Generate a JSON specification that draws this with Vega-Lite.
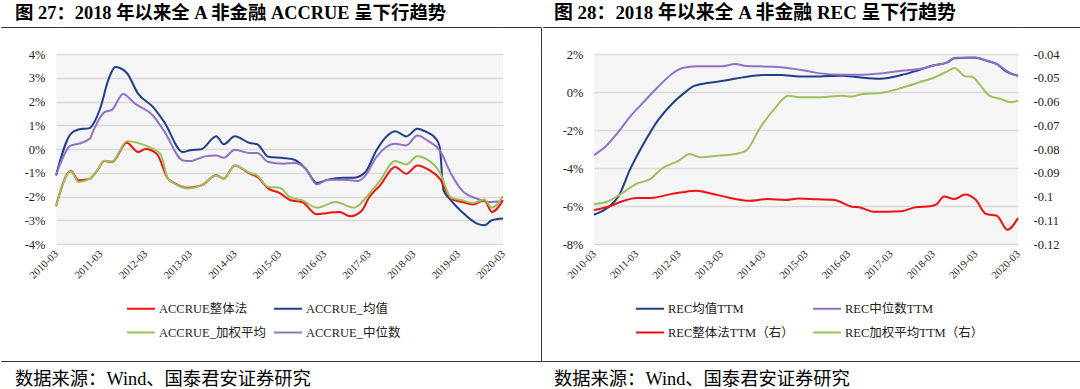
{
  "$schema": "https://vega.github.io/schema/vega-lite/v6.json",
  "padding": {"top": 3, "left": 0, "right": 0, "bottom": 0},
  "background": "white",
  "config": {
    "font": "Liberation Serif, Noto Sans CJK SC",
    "view": {"stroke": null},
    "axis": {"labelFont": "Liberation Serif, Noto Sans CJK SC", "labelColor": "#222222", "domain": false, "ticks": false, "gridColor": "#d9d9d9", "gridWidth": 1.5, "labelFontSize": 12.5},
    "legend": {"labelFont": "Liberation Serif, Noto Sans CJK SC", "labelColor": "#222222", "labelFontSize": 12.5},
    "title": {"font": "Liberation Serif, Noto Sans CJK SC", "color": "#000000"},
    "line": {"strokeWidth": 2, "interpolate": "monotone"}
  },
  "datasets": {
    "accrue": [
      {"date": "2010-03", "series": "ACCRUE_均值", "value": -1.11},
      {"date": "2010-07", "series": "ACCRUE_均值", "value": 0.65},
      {"date": "2010-09", "series": "ACCRUE_均值", "value": 0.82},
      {"date": "2010-12", "series": "ACCRUE_均值", "value": 0.88},
      {"date": "2011-01", "series": "ACCRUE_均值", "value": 1.07},
      {"date": "2011-03", "series": "ACCRUE_均值", "value": 1.77},
      {"date": "2011-05", "series": "ACCRUE_均值", "value": 2.89},
      {"date": "2011-07", "series": "ACCRUE_均值", "value": 3.45},
      {"date": "2011-08", "series": "ACCRUE_均值", "value": 3.42},
      {"date": "2011-10", "series": "ACCRUE_均值", "value": 3.2},
      {"date": "2012-01", "series": "ACCRUE_均值", "value": 2.33},
      {"date": "2012-05", "series": "ACCRUE_均值", "value": 1.77},
      {"date": "2012-08", "series": "ACCRUE_均值", "value": 1.14},
      {"date": "2013-01", "series": "ACCRUE_均值", "value": -0.13},
      {"date": "2013-03", "series": "ACCRUE_均值", "value": -0.05},
      {"date": "2013-06", "series": "ACCRUE_均值", "value": -0.01},
      {"date": "2013-10", "series": "ACCRUE_均值", "value": 0.54},
      {"date": "2013-12", "series": "ACCRUE_均值", "value": 0.2},
      {"date": "2014-03", "series": "ACCRUE_均值", "value": 0.54},
      {"date": "2014-07", "series": "ACCRUE_均值", "value": 0.25},
      {"date": "2014-09", "series": "ACCRUE_均值", "value": 0.2},
      {"date": "2014-12", "series": "ACCRUE_均值", "value": -0.33},
      {"date": "2015-04", "series": "ACCRUE_均值", "value": -0.38},
      {"date": "2015-07", "series": "ACCRUE_均值", "value": -0.45},
      {"date": "2015-10", "series": "ACCRUE_均值", "value": -0.83},
      {"date": "2016-01", "series": "ACCRUE_均值", "value": -1.43},
      {"date": "2016-04", "series": "ACCRUE_均值", "value": -1.29},
      {"date": "2016-08", "series": "ACCRUE_均值", "value": -1.21},
      {"date": "2016-11", "series": "ACCRUE_均值", "value": -1.21},
      {"date": "2017-02", "series": "ACCRUE_均值", "value": -0.97},
      {"date": "2017-05", "series": "ACCRUE_均值", "value": -0.06},
      {"date": "2017-08", "series": "ACCRUE_均值", "value": 0.57},
      {"date": "2017-10", "series": "ACCRUE_均值", "value": 0.75},
      {"date": "2018-01", "series": "ACCRUE_均值", "value": 0.53},
      {"date": "2018-04", "series": "ACCRUE_均值", "value": 0.85},
      {"date": "2018-06", "series": "ACCRUE_均值", "value": 0.75},
      {"date": "2018-09", "series": "ACCRUE_均值", "value": 0.43},
      {"date": "2018-10", "series": "ACCRUE_均值", "value": 0.08},
      {"date": "2018-11", "series": "ACCRUE_均值", "value": -1.74},
      {"date": "2019-01", "series": "ACCRUE_均值", "value": -2.16},
      {"date": "2019-04", "series": "ACCRUE_均值", "value": -2.65},
      {"date": "2019-08", "series": "ACCRUE_均值", "value": -3.14},
      {"date": "2019-10", "series": "ACCRUE_均值", "value": -3.21},
      {"date": "2019-12", "series": "ACCRUE_均值", "value": -3.0},
      {"date": "2020-03", "series": "ACCRUE_均值", "value": -2.93},

      {"date": "2010-03", "series": "ACCRUE_中位数", "value": -1.11},
      {"date": "2010-07", "series": "ACCRUE_中位数", "value": 0.15},
      {"date": "2010-09", "series": "ACCRUE_中位数", "value": 0.22},
      {"date": "2010-12", "series": "ACCRUE_中位数", "value": 0.43},
      {"date": "2011-01", "series": "ACCRUE_中位数", "value": 0.78},
      {"date": "2011-04", "series": "ACCRUE_中位数", "value": 1.55},
      {"date": "2011-06", "series": "ACCRUE_中位数", "value": 1.65},
      {"date": "2011-09", "series": "ACCRUE_中位数", "value": 2.32},
      {"date": "2011-12", "series": "ACCRUE_中位数", "value": 1.93},
      {"date": "2012-05", "series": "ACCRUE_中位数", "value": 1.41},
      {"date": "2012-08", "series": "ACCRUE_中位数", "value": 0.75},
      {"date": "2013-01", "series": "ACCRUE_中位数", "value": -0.48},
      {"date": "2013-03", "series": "ACCRUE_中位数", "value": -0.51},
      {"date": "2013-07", "series": "ACCRUE_中位数", "value": -0.31},
      {"date": "2013-10", "series": "ACCRUE_中位数", "value": -0.27},
      {"date": "2013-12", "series": "ACCRUE_中位数", "value": -0.37},
      {"date": "2014-03", "series": "ACCRUE_中位数", "value": -0.03},
      {"date": "2014-07", "series": "ACCRUE_中位数", "value": -0.17},
      {"date": "2014-09", "series": "ACCRUE_中位数", "value": -0.17},
      {"date": "2014-12", "series": "ACCRUE_中位数", "value": -0.55},
      {"date": "2015-04", "series": "ACCRUE_中位数", "value": -0.62},
      {"date": "2015-07", "series": "ACCRUE_中位数", "value": -0.59},
      {"date": "2015-10", "series": "ACCRUE_中位数", "value": -0.83},
      {"date": "2016-01", "series": "ACCRUE_中位数", "value": -1.49},
      {"date": "2016-04", "series": "ACCRUE_中位数", "value": -1.29},
      {"date": "2016-08", "series": "ACCRUE_中位数", "value": -1.29},
      {"date": "2016-12", "series": "ACCRUE_中位数", "value": -1.35},
      {"date": "2017-02", "series": "ACCRUE_中位数", "value": -1.11},
      {"date": "2017-05", "series": "ACCRUE_中位数", "value": -0.34},
      {"date": "2017-10", "series": "ACCRUE_中位数", "value": 0.22},
      {"date": "2018-01", "series": "ACCRUE_中位数", "value": 0.15},
      {"date": "2018-04", "series": "ACCRUE_中位数", "value": 0.57},
      {"date": "2018-07", "series": "ACCRUE_中位数", "value": 0.33},
      {"date": "2018-10", "series": "ACCRUE_中位数", "value": -0.06},
      {"date": "2019-01", "series": "ACCRUE_中位数", "value": -1.04},
      {"date": "2019-04", "series": "ACCRUE_中位数", "value": -1.74},
      {"date": "2019-08", "series": "ACCRUE_中位数", "value": -2.09},
      {"date": "2019-11", "series": "ACCRUE_中位数", "value": -2.23},
      {"date": "2020-03", "series": "ACCRUE_中位数", "value": -2.19},

      {"date": "2010-03", "series": "ACCRUE整体法", "value": -2.41},
      {"date": "2010-07", "series": "ACCRUE整体法", "value": -0.93},
      {"date": "2010-09", "series": "ACCRUE整体法", "value": -1.32},
      {"date": "2010-12", "series": "ACCRUE整体法", "value": -1.25},
      {"date": "2011-02", "series": "ACCRUE整体法", "value": -0.9},
      {"date": "2011-04", "series": "ACCRUE整体法", "value": -0.51},
      {"date": "2011-06", "series": "ACCRUE整体法", "value": -0.55},
      {"date": "2011-10", "series": "ACCRUE整体法", "value": 0.26},
      {"date": "2012-01", "series": "ACCRUE整体法", "value": -0.13},
      {"date": "2012-03", "series": "ACCRUE整体法", "value": 0.0},
      {"date": "2012-06", "series": "ACCRUE整体法", "value": -0.2},
      {"date": "2012-09", "series": "ACCRUE整体法", "value": -1.25},
      {"date": "2012-11", "series": "ACCRUE整体法", "value": -1.46},
      {"date": "2013-02", "series": "ACCRUE整体法", "value": -1.63},
      {"date": "2013-06", "series": "ACCRUE整体法", "value": -1.53},
      {"date": "2013-10", "series": "ACCRUE整体法", "value": -1.11},
      {"date": "2013-12", "series": "ACCRUE整体法", "value": -1.25},
      {"date": "2014-03", "series": "ACCRUE整体法", "value": -0.69},
      {"date": "2014-07", "series": "ACCRUE整体法", "value": -1.04},
      {"date": "2014-09", "series": "ACCRUE整体法", "value": -1.18},
      {"date": "2014-12", "series": "ACCRUE整体法", "value": -1.67},
      {"date": "2015-03", "series": "ACCRUE整体法", "value": -1.85},
      {"date": "2015-06", "series": "ACCRUE整体法", "value": -2.16},
      {"date": "2015-09", "series": "ACCRUE整体法", "value": -2.23},
      {"date": "2016-01", "series": "ACCRUE整体法", "value": -2.75},
      {"date": "2016-04", "series": "ACCRUE整体法", "value": -2.69},
      {"date": "2016-07", "series": "ACCRUE整体法", "value": -2.65},
      {"date": "2016-10", "series": "ACCRUE整体法", "value": -2.83},
      {"date": "2017-01", "series": "ACCRUE整体法", "value": -2.6},
      {"date": "2017-03", "series": "ACCRUE整体法", "value": -2.05},
      {"date": "2017-06", "series": "ACCRUE整体法", "value": -1.53},
      {"date": "2017-10", "series": "ACCRUE整体法", "value": -0.76},
      {"date": "2018-01", "series": "ACCRUE整体法", "value": -1.04},
      {"date": "2018-04", "series": "ACCRUE整体法", "value": -0.69},
      {"date": "2018-07", "series": "ACCRUE整体法", "value": -0.87},
      {"date": "2018-10", "series": "ACCRUE整体法", "value": -1.25},
      {"date": "2019-01", "series": "ACCRUE整体法", "value": -2.09},
      {"date": "2019-04", "series": "ACCRUE整体法", "value": -2.23},
      {"date": "2019-07", "series": "ACCRUE整体法", "value": -2.34},
      {"date": "2019-10", "series": "ACCRUE整体法", "value": -2.16},
      {"date": "2019-12", "series": "ACCRUE整体法", "value": -2.65},
      {"date": "2020-03", "series": "ACCRUE整体法", "value": -2.16},

      {"date": "2010-03", "series": "ACCRUE_加权平均", "value": -2.41},
      {"date": "2010-07", "series": "ACCRUE_加权平均", "value": -0.95},
      {"date": "2010-09", "series": "ACCRUE_加权平均", "value": -1.39},
      {"date": "2010-12", "series": "ACCRUE_加权平均", "value": -1.25},
      {"date": "2011-02", "series": "ACCRUE_加权平均", "value": -0.9},
      {"date": "2011-04", "series": "ACCRUE_加权平均", "value": -0.49},
      {"date": "2011-06", "series": "ACCRUE_加权平均", "value": -0.53},
      {"date": "2011-10", "series": "ACCRUE_加权平均", "value": 0.33},
      {"date": "2012-04", "series": "ACCRUE_加权平均", "value": 0.08},
      {"date": "2012-07", "series": "ACCRUE_加权平均", "value": -0.2},
      {"date": "2012-09", "series": "ACCRUE_加权平均", "value": -1.25},
      {"date": "2012-11", "series": "ACCRUE_加权平均", "value": -1.48},
      {"date": "2013-02", "series": "ACCRUE_加权平均", "value": -1.66},
      {"date": "2013-06", "series": "ACCRUE_加权平均", "value": -1.53},
      {"date": "2013-10", "series": "ACCRUE_加权平均", "value": -1.11},
      {"date": "2013-12", "series": "ACCRUE_加权平均", "value": -1.25},
      {"date": "2014-03", "series": "ACCRUE_加权平均", "value": -0.69},
      {"date": "2014-07", "series": "ACCRUE_加权平均", "value": -1.0},
      {"date": "2014-09", "series": "ACCRUE_加权平均", "value": -1.12},
      {"date": "2014-12", "series": "ACCRUE_加权平均", "value": -1.6},
      {"date": "2015-03", "series": "ACCRUE_加权平均", "value": -1.63},
      {"date": "2015-06", "series": "ACCRUE_加权平均", "value": -2.05},
      {"date": "2015-09", "series": "ACCRUE_加权平均", "value": -2.16},
      {"date": "2016-01", "series": "ACCRUE_加权平均", "value": -2.47},
      {"date": "2016-06", "series": "ACCRUE_加权平均", "value": -2.23},
      {"date": "2016-11", "series": "ACCRUE_加权平均", "value": -2.47},
      {"date": "2017-03", "series": "ACCRUE_加权平均", "value": -1.9},
      {"date": "2017-06", "series": "ACCRUE_加权平均", "value": -1.32},
      {"date": "2017-10", "series": "ACCRUE_加权平均", "value": -0.51},
      {"date": "2018-01", "series": "ACCRUE_加权平均", "value": -0.65},
      {"date": "2018-04", "series": "ACCRUE_加权平均", "value": -0.3},
      {"date": "2018-07", "series": "ACCRUE_加权平均", "value": -0.48},
      {"date": "2018-10", "series": "ACCRUE_加权平均", "value": -0.97},
      {"date": "2019-01", "series": "ACCRUE_加权平均", "value": -2.05},
      {"date": "2019-04", "series": "ACCRUE_加权平均", "value": -2.16},
      {"date": "2019-07", "series": "ACCRUE_加权平均", "value": -2.27},
      {"date": "2019-10", "series": "ACCRUE_加权平均", "value": -2.13},
      {"date": "2019-12", "series": "ACCRUE_加权平均", "value": -2.47},
      {"date": "2020-03", "series": "ACCRUE_加权平均", "value": -1.99}
    ],
    "rec": [
      {"date": "2010-03", "series": "REC均值TTM", "value": -6.46},
      {"date": "2010-07", "series": "REC均值TTM", "value": -6.07},
      {"date": "2010-10", "series": "REC均值TTM", "value": -5.46},
      {"date": "2011-01", "series": "REC均值TTM", "value": -4.14},
      {"date": "2011-05", "series": "REC均值TTM", "value": -2.74},
      {"date": "2011-09", "series": "REC均值TTM", "value": -1.51},
      {"date": "2012-01", "series": "REC均值TTM", "value": -0.63},
      {"date": "2012-05", "series": "REC均值TTM", "value": 0.02},
      {"date": "2012-07", "series": "REC均值TTM", "value": 0.3},
      {"date": "2012-11", "series": "REC均值TTM", "value": 0.47},
      {"date": "2013-04", "series": "REC均值TTM", "value": 0.6},
      {"date": "2013-09", "series": "REC均值TTM", "value": 0.77},
      {"date": "2014-03", "series": "REC均值TTM", "value": 0.89},
      {"date": "2014-08", "series": "REC均值TTM", "value": 0.89},
      {"date": "2015-01", "series": "REC均值TTM", "value": 0.81},
      {"date": "2015-07", "series": "REC均值TTM", "value": 0.82},
      {"date": "2016-01", "series": "REC均值TTM", "value": 0.86},
      {"date": "2016-06", "series": "REC均值TTM", "value": 0.77},
      {"date": "2016-12", "series": "REC均值TTM", "value": 0.7},
      {"date": "2017-06", "series": "REC均值TTM", "value": 0.89},
      {"date": "2017-11", "series": "REC均值TTM", "value": 1.16},
      {"date": "2018-03", "series": "REC均值TTM", "value": 1.39},
      {"date": "2018-07", "series": "REC均值TTM", "value": 1.56},
      {"date": "2018-09", "series": "REC均值TTM", "value": 1.77},
      {"date": "2019-01", "series": "REC均值TTM", "value": 1.8},
      {"date": "2019-03", "series": "REC均值TTM", "value": 1.8},
      {"date": "2019-06", "series": "REC均值TTM", "value": 1.65},
      {"date": "2019-09", "series": "REC均值TTM", "value": 1.47},
      {"date": "2019-12", "series": "REC均值TTM", "value": 1.04},
      {"date": "2020-03", "series": "REC均值TTM", "value": 0.86},

      {"date": "2010-03", "series": "REC中位数TTM", "value": -3.32},
      {"date": "2010-06", "series": "REC中位数TTM", "value": -2.91},
      {"date": "2010-10", "series": "REC中位数TTM", "value": -2.07},
      {"date": "2011-01", "series": "REC中位数TTM", "value": -1.33},
      {"date": "2011-05", "series": "REC中位数TTM", "value": -0.54},
      {"date": "2011-09", "series": "REC中位数TTM", "value": 0.25},
      {"date": "2012-01", "series": "REC中位数TTM", "value": 0.95},
      {"date": "2012-04", "series": "REC中位数TTM", "value": 1.26},
      {"date": "2012-08", "series": "REC中位数TTM", "value": 1.35},
      {"date": "2013-03", "series": "REC中位数TTM", "value": 1.35},
      {"date": "2013-07", "series": "REC中位数TTM", "value": 1.47},
      {"date": "2013-10", "series": "REC中位数TTM", "value": 1.37},
      {"date": "2014-06", "series": "REC中位数TTM", "value": 1.33},
      {"date": "2014-11", "series": "REC中位数TTM", "value": 1.23},
      {"date": "2015-03", "series": "REC中位数TTM", "value": 1.12},
      {"date": "2015-07", "series": "REC中位数TTM", "value": 0.98},
      {"date": "2016-01", "series": "REC中位数TTM", "value": 0.91},
      {"date": "2016-06", "series": "REC中位数TTM", "value": 0.91},
      {"date": "2016-12", "series": "REC中位数TTM", "value": 0.98},
      {"date": "2017-06", "series": "REC中位数TTM", "value": 1.12},
      {"date": "2017-11", "series": "REC中位数TTM", "value": 1.21},
      {"date": "2018-03", "series": "REC中位数TTM", "value": 1.39},
      {"date": "2018-07", "series": "REC中位数TTM", "value": 1.56},
      {"date": "2018-09", "series": "REC中位数TTM", "value": 1.8},
      {"date": "2019-03", "series": "REC中位数TTM", "value": 1.81},
      {"date": "2019-06", "series": "REC中位数TTM", "value": 1.67},
      {"date": "2019-09", "series": "REC中位数TTM", "value": 1.47},
      {"date": "2020-01", "series": "REC中位数TTM", "value": 0.97},
      {"date": "2020-03", "series": "REC中位数TTM", "value": 0.86},

      {"date": "2010-03", "series": "REC整体法TTM（右）", "value": -0.1057},
      {"date": "2010-07", "series": "REC整体法TTM（右）", "value": -0.1043},
      {"date": "2010-11", "series": "REC整体法TTM（右）", "value": -0.102},
      {"date": "2011-03", "series": "REC整体法TTM（右）", "value": -0.1006},
      {"date": "2011-07", "series": "REC整体法TTM（右）", "value": -0.1006},
      {"date": "2012-01", "series": "REC整体法TTM（右）", "value": -0.0989},
      {"date": "2012-04", "series": "REC整体法TTM（右）", "value": -0.0982},
      {"date": "2012-08", "series": "REC整体法TTM（右）", "value": -0.0976},
      {"date": "2012-12", "series": "REC整体法TTM（右）", "value": -0.0987},
      {"date": "2013-05", "series": "REC整体法TTM（右）", "value": -0.1004},
      {"date": "2013-11", "series": "REC整体法TTM（右）", "value": -0.1018},
      {"date": "2014-04", "series": "REC整体法TTM（右）", "value": -0.1011},
      {"date": "2014-09", "series": "REC整体法TTM（右）", "value": -0.1015},
      {"date": "2015-01", "series": "REC整体法TTM（右）", "value": -0.1008},
      {"date": "2015-06", "series": "REC整体法TTM（右）", "value": -0.1012},
      {"date": "2015-11", "series": "REC整体法TTM（右）", "value": -0.1015},
      {"date": "2016-04", "series": "REC整体法TTM（右）", "value": -0.1043},
      {"date": "2016-06", "series": "REC整体法TTM（右）", "value": -0.1045},
      {"date": "2016-10", "series": "REC整体法TTM（右）", "value": -0.1064},
      {"date": "2017-02", "series": "REC整体法TTM（右）", "value": -0.1064},
      {"date": "2017-06", "series": "REC整体法TTM（右）", "value": -0.1062},
      {"date": "2017-10", "series": "REC整体法TTM（右）", "value": -0.1045},
      {"date": "2018-02", "series": "REC整体法TTM（右）", "value": -0.1041},
      {"date": "2018-04", "series": "REC整体法TTM（右）", "value": -0.1032},
      {"date": "2018-06", "series": "REC整体法TTM（右）", "value": -0.1},
      {"date": "2018-09", "series": "REC整体法TTM（右）", "value": -0.1011},
      {"date": "2018-12", "series": "REC整体法TTM（右）", "value": -0.0992},
      {"date": "2019-03", "series": "REC整体法TTM（右）", "value": -0.1013},
      {"date": "2019-06", "series": "REC整体法TTM（右）", "value": -0.1074},
      {"date": "2019-09", "series": "REC整体法TTM（右）", "value": -0.1081},
      {"date": "2019-12", "series": "REC整体法TTM（右）", "value": -0.114},
      {"date": "2020-03", "series": "REC整体法TTM（右）", "value": -0.1091},

      {"date": "2010-03", "series": "REC加权平均TTM（右）", "value": -0.1033},
      {"date": "2010-07", "series": "REC加权平均TTM（右）", "value": -0.102},
      {"date": "2010-12", "series": "REC加权平均TTM（右）", "value": -0.0975},
      {"date": "2011-03", "series": "REC加权平均TTM（右）", "value": -0.0947},
      {"date": "2011-07", "series": "REC加权平均TTM（右）", "value": -0.0926},
      {"date": "2011-10", "series": "REC加权平均TTM（右）", "value": -0.0884},
      {"date": "2012-03", "series": "REC加权平均TTM（右）", "value": -0.0849},
      {"date": "2012-06", "series": "REC加权平均TTM（右）", "value": -0.0821},
      {"date": "2012-09", "series": "REC加权平均TTM（右）", "value": -0.0835},
      {"date": "2013-02", "series": "REC加权平均TTM（右）", "value": -0.0828},
      {"date": "2013-07", "series": "REC加权平均TTM（右）", "value": -0.0821},
      {"date": "2013-10", "series": "REC加权平均TTM（右）", "value": -0.0807},
      {"date": "2014-02", "series": "REC加权平均TTM（右）", "value": -0.0709},
      {"date": "2014-06", "series": "REC加权平均TTM（右）", "value": -0.0632},
      {"date": "2014-10", "series": "REC加权平均TTM（右）", "value": -0.0576},
      {"date": "2015-01", "series": "REC加权平均TTM（右）", "value": -0.0582},
      {"date": "2015-07", "series": "REC加权平均TTM（右）", "value": -0.0582},
      {"date": "2016-01", "series": "REC加权平均TTM（右）", "value": -0.0576},
      {"date": "2016-04", "series": "REC加权平均TTM（右）", "value": -0.0579},
      {"date": "2016-07", "series": "REC加权平均TTM（右）", "value": -0.0568},
      {"date": "2016-12", "series": "REC加权平均TTM（右）", "value": -0.0564},
      {"date": "2017-06", "series": "REC加权平均TTM（右）", "value": -0.0543},
      {"date": "2017-11", "series": "REC加权平均TTM（右）", "value": -0.0519},
      {"date": "2018-03", "series": "REC加权平均TTM（右）", "value": -0.0501},
      {"date": "2018-07", "series": "REC加权平均TTM（右）", "value": -0.0473},
      {"date": "2018-09", "series": "REC加权平均TTM（右）", "value": -0.0459},
      {"date": "2018-12", "series": "REC加权平均TTM（右）", "value": -0.0494},
      {"date": "2019-02", "series": "REC加权平均TTM（右）", "value": -0.0496},
      {"date": "2019-04", "series": "REC加权平均TTM（右）", "value": -0.0526},
      {"date": "2019-07", "series": "REC加权平均TTM（右）", "value": -0.0576},
      {"date": "2019-10", "series": "REC加权平均TTM（右）", "value": -0.0589},
      {"date": "2020-01", "series": "REC加权平均TTM（右）", "value": -0.0603},
      {"date": "2020-03", "series": "REC加权平均TTM（右）", "value": -0.0597}
    ]
  },
  "columns": 7,
  "bounds": "flush",
  "align": "each",
  "spacing": {"row": 0, "column": 0},
  "resolve": {"scale": {"color": "independent"}, "legend": {"color": "independent"}},
  "concat": [
    {
      "data": {"values": []}, "mark": "point", "width": 55, "height": 0.01,
      "view": {"stroke": "#333333", "strokeWidth": 1},
      "title": {"text": "图 27：2018 年以来全 A 非金融 ACCRUE 呈下行趋势", "anchor": "start", "frame": "group", "dx": 14, "offset": -10.5, "baseline": "alphabetic", "fontSize": 18.4, "fontWeight": "bold"}
    },
    {"data": {"values": []}, "mark": "point", "width": 447, "height": 0.01, "view": {"stroke": "#333333", "strokeWidth": 1}},
    {"data": {"values": []}, "mark": "point", "width": 38, "height": 0.01, "view": {"stroke": "#333333", "strokeWidth": 1}},
    {"data": {"values": []}, "mark": "point", "width": 2, "height": 0.01},
    {
      "data": {"values": []}, "mark": "point", "width": 51, "height": 0.01,
      "view": {"stroke": "#333333", "strokeWidth": 1},
      "title": {"text": "图 28：2018 年以来全 A 非金融 REC 呈下行趋势", "anchor": "start", "frame": "group", "dx": 11, "offset": -10.5, "baseline": "alphabetic", "fontSize": 18.9, "fontWeight": "bold"}
    },
    {"data": {"values": []}, "mark": "point", "width": 424, "height": 0.01, "view": {"stroke": "#333333", "strokeWidth": 1}},
    {"data": {"values": []}, "mark": "point", "width": 63, "height": 0.01, "view": {"stroke": "#333333", "strokeWidth": 1}},

    {"data": {"values": []}, "mark": "point", "width": 0.01, "height": 0.01},
    {"data": {"values": []}, "mark": "point", "width": 0.01, "height": 0.01},
    {"data": {"values": []}, "mark": "point", "width": 0.01, "height": 0.01},
    {"data": {"values": []}, "mark": "point", "width": 0.01, "height": 25.5, "view": {"stroke": "#333333", "strokeWidth": 1}},
    {"data": {"values": []}, "mark": "point", "width": 0.01, "height": 0.01},
    {"data": {"values": []}, "mark": "point", "width": 0.01, "height": 0.01},
    {"data": {"values": []}, "mark": "point", "width": 0.01, "height": 0.01},

    {"data": {"values": []}, "mark": "point", "width": 0.01, "height": 0.01},
    {
      "width": 447, "height": 190,
      "data": {"name": "accrue"},
      "view": {"fill": "#f5f5f5"},
      "mark": {"type": "line", "interpolate": "monotone", "strokeWidth": 2},
      "encoding": {
        "x": {
          "field": "date", "type": "temporal",
          "scale": {"type": "utc", "domain": [{"year": 2010, "month": 3, "date": 1, "utc": true}, {"year": 2020, "month": 3, "date": 1, "utc": true}], "nice": false},
          "axis": {
            "title": null, "grid": false, "format": "%Y-%m", "labelAngle": -45, "labelAlign": "right", "labelBaseline": "middle", "labelPadding": 8, "labelFontSize": 10.5, "labelOverlap": false, "labelFlush": false,
            "values": [
              {"year": 2010, "month": 3, "date": 1, "utc": true}, {"year": 2011, "month": 3, "date": 1, "utc": true},
              {"year": 2012, "month": 3, "date": 1, "utc": true}, {"year": 2013, "month": 3, "date": 1, "utc": true},
              {"year": 2014, "month": 3, "date": 1, "utc": true}, {"year": 2015, "month": 3, "date": 1, "utc": true},
              {"year": 2016, "month": 3, "date": 1, "utc": true}, {"year": 2017, "month": 3, "date": 1, "utc": true},
              {"year": 2018, "month": 3, "date": 1, "utc": true}, {"year": 2019, "month": 3, "date": 1, "utc": true},
              {"year": 2020, "month": 3, "date": 1, "utc": true}
            ]
          }
        },
        "y": {
          "field": "value", "type": "quantitative",
          "scale": {"domain": [-4, 4], "nice": false},
          "axis": {"title": null, "grid": true, "values": [-4, -3, -2, -1, 0, 1, 2, 3, 4], "labelExpr": "replace(format(datum.value, 'd'), '\u2212', '-') + '%'", "labelPadding": 11}
        },
        "color": {
          "field": "series", "type": "nominal",
          "scale": {"domain": ["ACCRUE整体法", "ACCRUE_均值", "ACCRUE_加权平均", "ACCRUE_中位数"], "range": ["#ee1111", "#203f86", "#9dc05a", "#8f72c4"]},
          "legend": {"title": null, "orient": "none", "direction": "horizontal", "legendX": 70, "legendY": 239.5, "columns": 2, "symbolType": "stroke", "symbolSize": 784, "symbolStrokeWidth": 2, "labelOffset": 3, "columnPadding": 4, "rowPadding": 2, "padding": 0, "labelLimit": 300}
        }
      }
    },
    {"data": {"values": []}, "mark": "point", "width": 0.01, "height": 0.01},
    {"data": {"values": []}, "mark": "point", "width": 0.01, "height": 190, "view": {"stroke": "#333333", "strokeWidth": 1}},
    {"data": {"values": []}, "mark": "point", "width": 0.01, "height": 0.01},
    {
      "width": 424, "height": 190,
      "data": {"name": "rec"},
      "view": {"fill": "#f5f5f5"},
      "encoding": {
        "x": {
          "field": "date", "type": "temporal",
          "scale": {"type": "utc", "domain": [{"year": 2010, "month": 3, "date": 1, "utc": true}, {"year": 2020, "month": 3, "date": 1, "utc": true}], "nice": false},
          "axis": {
            "title": null, "grid": false, "format": "%Y-%m", "labelAngle": -45, "labelAlign": "right", "labelBaseline": "middle", "labelPadding": 8, "labelFontSize": 10.5, "labelOverlap": false, "labelFlush": false,
            "values": [
              {"year": 2010, "month": 3, "date": 1, "utc": true}, {"year": 2011, "month": 3, "date": 1, "utc": true},
              {"year": 2012, "month": 3, "date": 1, "utc": true}, {"year": 2013, "month": 3, "date": 1, "utc": true},
              {"year": 2014, "month": 3, "date": 1, "utc": true}, {"year": 2015, "month": 3, "date": 1, "utc": true},
              {"year": 2016, "month": 3, "date": 1, "utc": true}, {"year": 2017, "month": 3, "date": 1, "utc": true},
              {"year": 2018, "month": 3, "date": 1, "utc": true}, {"year": 2019, "month": 3, "date": 1, "utc": true},
              {"year": 2020, "month": 3, "date": 1, "utc": true}
            ]
          }
        },
        "color": {
          "field": "series", "type": "nominal",
          "scale": {"domain": ["REC均值TTM", "REC中位数TTM", "REC整体法TTM（右）", "REC加权平均TTM（右）"], "range": ["#203f86", "#8f72c4", "#ee1111", "#9dc05a"]},
          "legend": {"title": null, "orient": "none", "direction": "horizontal", "legendX": 41, "legendY": 239.5, "columns": 2, "symbolType": "stroke", "symbolSize": 784, "symbolStrokeWidth": 2, "labelOffset": 3, "columnPadding": 15, "rowPadding": 2, "padding": 0, "labelLimit": 300}
        }
      },
      "layer": [
        {
          "transform": [{"filter": {"field": "series", "oneOf": ["REC均值TTM", "REC中位数TTM"]}}],
          "mark": {"type": "line", "interpolate": "monotone", "strokeWidth": 2},
          "encoding": {
            "y": {
              "field": "value", "type": "quantitative",
              "scale": {"domain": [-8, 2], "nice": false},
              "axis": {"title": null, "grid": true, "values": [-8, -6, -4, -2, 0, 2], "labelExpr": "replace(format(datum.value, 'd'), '\u2212', '-') + '%'", "labelPadding": 11}
            }
          }
        },
        {
          "transform": [{"filter": {"field": "series", "oneOf": ["REC整体法TTM（右）", "REC加权平均TTM（右）"]}}],
          "mark": {"type": "line", "interpolate": "monotone", "strokeWidth": 2},
          "encoding": {
            "y": {
              "field": "value", "type": "quantitative",
              "scale": {"domain": [-0.12, -0.04], "nice": false, "zero": false},
              "axis": {"orient": "right", "title": null, "grid": false, "values": [-0.12, -0.11, -0.1, -0.09, -0.08, -0.07, -0.06, -0.05, -0.04], "labelExpr": "replace(format(datum.value, '.2~f'), '\u2212', '-')", "labelPadding": 15}
            }
          }
        }
      ],
      "resolve": {"scale": {"y": "independent"}}
    },
    {"data": {"values": []}, "mark": "point", "width": 0.01, "height": 0.01},

    {"data": {"values": []}, "mark": "point", "width": 0.01, "height": 0.01},
    {"data": {"values": []}, "mark": "point", "width": 0.01, "height": 0.01},
    {"data": {"values": []}, "mark": "point", "width": 0.01, "height": 0.01},
    {"data": {"values": []}, "mark": "point", "width": 0.01, "height": 117, "view": {"stroke": "#333333", "strokeWidth": 1}},
    {"data": {"values": []}, "mark": "point", "width": 0.01, "height": 0.01},
    {"data": {"values": []}, "mark": "point", "width": 0.01, "height": 0.01},
    {"data": {"values": []}, "mark": "point", "width": 0.01, "height": 0.01},

    {
      "data": {"values": []}, "mark": "point", "width": 55, "height": 0.01,
      "view": {"stroke": "#333333", "strokeWidth": 1},
      "title": {"text": "数据来源：Wind、国泰君安证券研究", "orient": "bottom", "anchor": "start", "frame": "group", "dx": 14, "offset": 24, "baseline": "alphabetic", "fontSize": 18.3, "fontWeight": "normal"}
    },
    {"data": {"values": []}, "mark": "point", "width": 447, "height": 0.01, "view": {"stroke": "#333333", "strokeWidth": 1}},
    {"data": {"values": []}, "mark": "point", "width": 38, "height": 0.01, "view": {"stroke": "#333333", "strokeWidth": 1}},
    {"data": {"values": []}, "mark": "point", "width": 2, "height": 0.01, "view": {"stroke": "#333333", "strokeWidth": 1}},
    {
      "data": {"values": []}, "mark": "point", "width": 51, "height": 0.01,
      "view": {"stroke": "#333333", "strokeWidth": 1},
      "title": {"text": "数据来源：Wind、国泰君安证券研究", "orient": "bottom", "anchor": "start", "frame": "group", "dx": 11, "offset": 24, "baseline": "alphabetic", "fontSize": 18.3, "fontWeight": "normal"}
    },
    {"data": {"values": []}, "mark": "point", "width": 424, "height": 0.01, "view": {"stroke": "#333333", "strokeWidth": 1}},
    {"data": {"values": []}, "mark": "point", "width": 63, "height": 0.01, "view": {"stroke": "#333333", "strokeWidth": 1}}
  ]
}
